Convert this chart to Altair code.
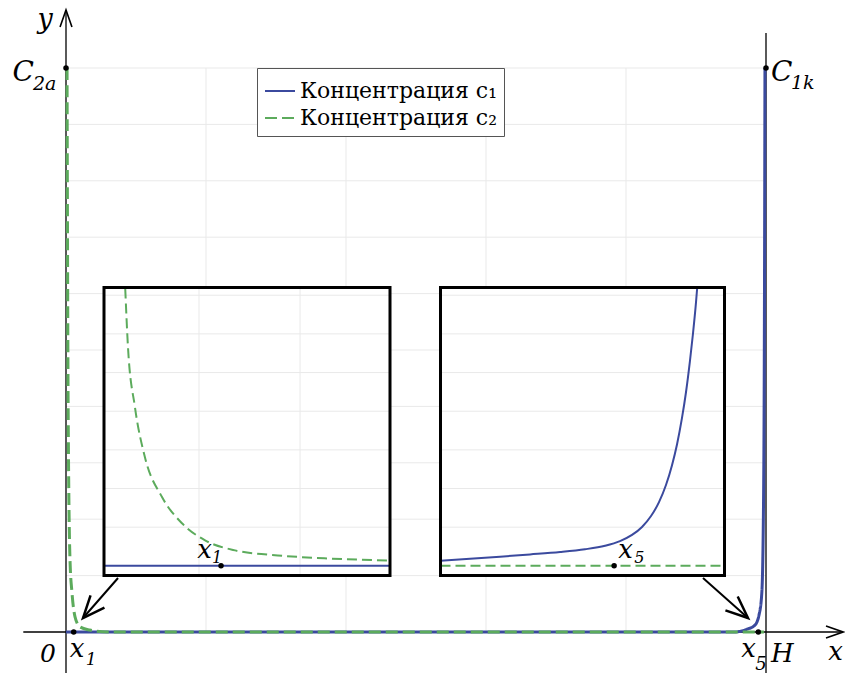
import math
import altair as alt
import pandas as pd

SERIES = ["Концентрация c₁", "Концентрация c₂"]
BLUE = "#3b4a9e"
GREEN = "#5cab5c"
GRID = "#e9e9e9"
SERIF = "DejaVu Serif"

# ---------------- main panel: x from 0 to H, concentrations scaled to 1 -------------
c1_x = [0.0, 0.955, 0.973, 0.984, 0.990, 0.994, 0.9965, 0.9978, 0.9985]
c1_y = [0.0, 0.0, 0.005, 0.012, 0.030, 0.069, 0.234, 0.589, 1.0]

c2_x = [0.0015, 0.002, 0.003, 0.0057, 0.0086, 0.0129, 0.02, 0.034, 0.06, 0.997]
c2_y = [1.0, 0.766, 0.411, 0.128, 0.069, 0.027, 0.009, 0.0035, 0.0, 0.0]

grid_x = [0.2, 0.4, 0.6, 0.8]
grid_y = [0.1, 0.2, 0.3, 0.4, 0.5, 0.6, 0.7, 0.8, 0.9, 1.0]

# marked points: C2a, C1k, x1, x5
pt_x = [0.0, 1.0, 0.011, 0.989]
pt_y = [1.0, 1.0, 0.0, 0.0]

# coordinate axes drawn as arrows, H as a vertical line
axis_x_from, axis_x_to = -0.061, 1.11
axis_y_from, axis_y_to = -0.073, 1.103
h_line_top = 1.062

# pointers from the zoomed views to the boundary layers
ptr_tail_x = [0.0743, 0.910]
ptr_tail_y = [0.0957, 0.0957]
ptr_tip_x = [0.0243, 0.9743]
ptr_tip_y = [0.0248, 0.0248]

# ---------------- zoomed view near x1 ----------------
zl_c2_x = [0.27, 0.297, 0.366, 0.465, 0.634, 0.832, 1.06, 1.356, 1.78, 2.28, 2.87]
zl_c2_y = [7.18, 5.67, 4.11, 2.81, 1.78, 1.10, 0.66, 0.40, 0.27, 0.19, 0.14]
zl_c1_x = [0.06, 2.89]
zl_c1_y = [0.0, 0.0]
zl_pt_x, zl_pt_y = 1.218, 0.0
zl_grid_x = [1, 2]

# ---------------- zoomed view near x5 ----------------
zr_c1_x = [0.0, 0.292, 0.589, 0.886, 1.183, 1.430, 1.628, 1.776, 1.895, 1.994,
           2.083, 2.162, 2.231, 2.290, 2.340, 2.389, 2.429, 2.468, 2.498, 2.528, 2.540]
zr_c1_y = [0.129, 0.184, 0.238, 0.295, 0.357, 0.429, 0.520, 0.639, 0.799, 1.006,
           1.288, 1.648, 2.090, 2.597, 3.140, 3.820, 4.490, 5.295, 6.004, 6.816, 7.2]
zr_c2_x = [0.0, 2.81]
zr_c2_y = [0.0, 0.0]
zr_pt_x, zr_pt_y = 1.718, 0.0

zoom_grid_y = [1, 2, 3, 4, 5, 6, 7]

# ---------------- pixel placement of the three panels ----------------
MAIN_XR, MAIN_YR = [66, 766], [632, 68]
ZL_DOM, ZL_RNG = [0.06, 2.89], [104, 390]
ZR_DOM, ZR_RNG = [0.0, 2.81], [440.5, 724.5]
Z_YDOM, Z_YRNG = [-0.25, 7.2], [575.5, 287.5]


def sx(dom, rng):
    return alt.Scale(domain=dom, range=rng, nice=False, zero=False)


def pos(xs, ys):
    return dict(
        x=alt.X("x:Q", scale=xs, axis=None),
        y=alt.Y("y:Q", scale=ys, axis=None),
    )


def rules(df, xs, ys, **kw):
    return alt.Chart(df).mark_rule(**kw).encode(
        x=alt.X("x:Q", scale=xs, axis=None),
        x2="x2:Q",
        y=alt.Y("y:Q", scale=ys, axis=None),
        y2="y2:Q",
    )


def label(x, y, text, xs, ys, dx, dy, size, align="left"):
    df = pd.DataFrame({"x": [x], "y": [y], "t": [text]})
    return alt.Chart(df).mark_text(
        font=SERIF, fontStyle="italic", fontSize=size,
        align=align, baseline="alphabetic", dx=dx, dy=dy, color="black",
    ).encode(text="t:N", **pos(xs, ys))


def arrowheads(xs_vals, ys_vals, angles, xs, ys, size, half, width):
    df = pd.DataFrame({"x": xs_vals, "y": ys_vals, "a": angles})
    path = f"M -{half} 1 L 0 0 L {half} 1"
    return alt.Chart(df).mark_point(
        shape=path, size=size, filled=False, strokeWidth=width,
        color="black", opacity=1,
    ).encode(angle=alt.Angle("a:Q", scale=None), **pos(xs, ys))


# ================= main panel =================
mxs = sx([0, 1], MAIN_XR)
mys = sx([0, 1], MAIN_YR)

grid_df = pd.DataFrame(
    [{"x": 0.0, "x2": 1.0, "y": v, "y2": v} for v in grid_y]
    + [{"x": v, "x2": v, "y": 0.0, "y2": 1.0} for v in grid_x]
)
axes_df = pd.DataFrame([
    {"x": axis_x_from, "x2": axis_x_to, "y": 0.0, "y2": 0.0},
    {"x": 0.0, "x2": 0.0, "y": axis_y_from, "y2": axis_y_to},
    {"x": 1.0, "x2": 1.0, "y": axis_y_from, "y2": h_line_top},
])

curves = pd.concat([
    pd.DataFrame({"x": c1_x, "y": c1_y, "series": SERIES[0]}),
    pd.DataFrame({"x": c2_x, "y": c2_y, "series": SERIES[1]}),
])
color_scale = alt.Scale(domain=SERIES, range=[BLUE, GREEN])
dash_scale = alt.Scale(domain=SERIES, range=[[1, 0], [12, 5]])


def curve_layer(name, width):
    return alt.Chart(curves).transform_filter(
        alt.datum.series == name
    ).mark_line(strokeWidth=width, interpolate="monotone").encode(
        color=alt.Color("series:N", scale=color_scale, title=None),
        strokeDash=alt.StrokeDash("series:N", scale=dash_scale, title=None),
        order="x:Q",
        **pos(mxs, mys),
    )


ptr_df = pd.DataFrame({"x": ptr_tail_x, "x2": ptr_tip_x, "y": ptr_tail_y, "y2": ptr_tip_y})
ptr_angles = []
for tx, ty, px, py in zip(ptr_tail_x, ptr_tail_y, ptr_tip_x, ptr_tip_y):
    ddx = (px - tx) * (MAIN_XR[1] - MAIN_XR[0])
    ddy = (py - ty) * (MAIN_YR[0] - MAIN_YR[1])
    ptr_angles.append(math.degrees(math.atan2(ddx, ddy)) % 360)

points_df = pd.DataFrame({"x": pt_x, "y": pt_y})

main = alt.layer(
    rules(grid_df, mxs, mys, color=GRID, strokeWidth=1),
    rules(axes_df, mxs, mys, color="black", strokeWidth=1.3),
    arrowheads([0.0, axis_x_to], [axis_y_to, 0.0], [0, 90], mxs, mys, 1156, 0.35, 1.6),
    curve_layer(SERIES[0], 3),
    curve_layer(SERIES[1], 3),
    rules(ptr_df, mxs, mys, color="black", strokeWidth=2),
    arrowheads(ptr_tip_x, ptr_tip_y, ptr_angles, mxs, mys, 1936, 0.42, 2.5),
    alt.Chart(points_df).mark_circle(size=30, color="black", opacity=1).encode(**pos(mxs, mys)),
    label(0.0, axis_y_to, "y", mxs, mys, -21, 18, 27, "center"),
    label(pt_x[0], pt_y[0], "C", mxs, mys, -32, 13, 28, "right"),
    label(pt_x[0], pt_y[0], "2a", mxs, mys, -33, 22, 19),
    label(pt_x[1], pt_y[1], "C", mxs, mys, 5, 13, 28),
    label(pt_x[1], pt_y[1], "1k", mxs, mys, 25, 21, 19),
    label(0.0, 0.0, "0", mxs, mys, -18, 30, 25, "center"),
    label(pt_x[2], pt_y[2], "x", mxs, mys, -4, 25, 26),
    label(pt_x[2], pt_y[2], "1", mxs, mys, 12, 33, 17),
    label(pt_x[3], pt_y[3], "x", mxs, mys, -17, 25, 26),
    label(pt_x[3], pt_y[3], "5", mxs, mys, -3, 38, 18),
    label(1.0, 0.0, "H", mxs, mys, 5, 30, 26),
    label(axis_x_to, 0.0, "x", mxs, mys, 0, 28, 26, "right"),
)


# ================= zoomed views =================
def zoom_panel(dom, rng, c1x, c1y, c2x, c2y, ptx, pty, vgrid, lbl, lbl_sub, lbl_dx, lbl_align):
    xs = sx(dom, rng)
    ys = sx(Z_YDOM, Z_YRNG)
    frame = pd.DataFrame({"x": [dom[0]], "x2": [dom[1]], "y": [Z_YDOM[0]], "y2": [Z_YDOM[1]]})
    gdf = pd.DataFrame(
        [{"x": dom[0], "x2": dom[1], "y": v, "y2": v} for v in zoom_grid_y]
        + [{"x": v, "x2": v, "y": Z_YDOM[0], "y2": Z_YDOM[1]} for v in vgrid]
    )
    enc_rect = dict(
        x=alt.X("x:Q", scale=xs, axis=None), x2="x2:Q",
        y=alt.Y("y:Q", scale=ys, axis=None), y2="y2:Q",
    )
    layers = [
        alt.Chart(frame).mark_rect(color="white").encode(**enc_rect),
        rules(gdf, xs, ys, color=GRID, strokeWidth=1),
        alt.Chart(pd.DataFrame({"x": c1x, "y": c1y})).mark_line(
            color=BLUE, strokeWidth=2, interpolate="monotone").encode(order="x:Q", **pos(xs, ys)),
        alt.Chart(pd.DataFrame({"x": c2x, "y": c2y})).mark_line(
            color=GREEN, strokeWidth=2, strokeDash=[10, 5], interpolate="monotone"
        ).encode(order="x:Q", **pos(xs, ys)),
        alt.Chart(frame).mark_rect(fillOpacity=0, stroke="black", strokeWidth=3).encode(**enc_rect),
        alt.Chart(pd.DataFrame({"x": [ptx], "y": [pty]})).mark_circle(
            size=30, color="black", opacity=1).encode(**pos(xs, ys)),
        label(ptx, pty, lbl, xs, ys, lbl_dx[0], -8, 26, lbl_align),
        label(ptx, pty, lbl_sub, xs, ys, lbl_dx[1], -3, 16),
    ]
    return alt.layer(*layers)


zoom_left = zoom_panel(ZL_DOM, ZL_RNG, zl_c1_x, zl_c1_y, zl_c2_x, zl_c2_y,
                       zl_pt_x, zl_pt_y, zl_grid_x, "x", "1", (-9, -9), "right")
zoom_right = zoom_panel(ZR_DOM, ZR_RNG, zr_c1_x, zr_c1_y, zr_c2_x, zr_c2_y,
                        zr_pt_x, zr_pt_y, [], "x", "5", (4, 20), "left")

chart = alt.layer(main, zoom_left, zoom_right).resolve_scale(
    x="independent", y="independent"
).properties(
    width=845, height=673, padding=0, autosize="none", background="white"
).configure_view(stroke=None).configure_legend(
    orient="none", legendX=257, legendY=68, padding=7,
    fillColor="white", strokeColor="#555555", strokeWidth=1,
    labelFont=SERIF, labelFontSize=22, labelColor="black", labelOffset=4,
    labelLimit=400,
    symbolType="stroke", symbolSize=900, symbolStrokeWidth=2, rowPadding=-2,
)

chart.save("out.html", embed_options={"renderer": "svg", "actions": False})
